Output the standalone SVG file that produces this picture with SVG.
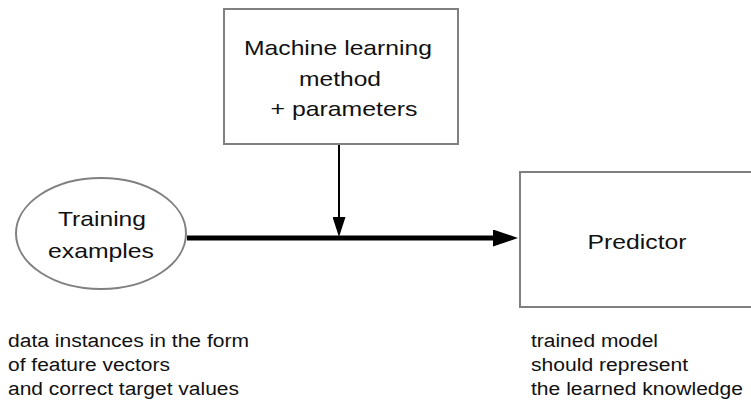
<svg xmlns="http://www.w3.org/2000/svg" width="751" height="400" viewBox="0 0 751 400">
<defs>
<style>
.box{fill:#fff;stroke:#808080;stroke-width:2}
.t{font-family:"Liberation Sans",Arial,sans-serif;fill:#111}
.big{font-size:21px;text-anchor:middle}
.small{font-size:18px}
.conn{stroke:#000;fill:none}
</style>
<marker id="headBig" markerUnits="userSpaceOnUse" markerWidth="26" markerHeight="18" refX="2" refY="8.5" orient="auto">
<path d="M0,0 L25,8.5 L0,17 Z" fill="#000"/>
</marker>
<marker id="headSmall" markerUnits="userSpaceOnUse" markerWidth="21" markerHeight="13" refX="2" refY="6.5" orient="auto">
<path d="M0,0 L20,6.5 L0,13 Z" fill="#000"/>
</marker>
</defs>
<rect width="751" height="400" fill="#fff"/>
<g id="connectors">
<line class="conn" x1="187" y1="238" x2="495" y2="238" stroke-width="5" marker-end="url(#headBig)"/>
<line class="conn" x1="339" y1="144" x2="339" y2="219" stroke-width="2" marker-end="url(#headSmall)"/>
</g>
<g id="method">
<rect class="box" x="224" y="9" width="234" height="135"/>
<text class="t big" x="338" y="55" textLength="188" lengthAdjust="spacingAndGlyphs">Machine learning</text>
<text class="t big" x="340" y="86" textLength="82" lengthAdjust="spacingAndGlyphs">method</text>
<text class="t big" x="344" y="116" textLength="147" lengthAdjust="spacingAndGlyphs">+ parameters</text>
</g>
<g id="training">
<ellipse class="box" cx="101" cy="233.5" rx="85" ry="55.5"/>
<text class="t big" x="102" y="226" textLength="88" lengthAdjust="spacingAndGlyphs">Training</text>
<text class="t big" x="101" y="258" textLength="106" lengthAdjust="spacingAndGlyphs">examples</text>
</g>
<g id="predictor">
<rect class="box" x="520" y="172" width="234" height="135"/>
<text class="t big" x="637" y="249" textLength="99" lengthAdjust="spacingAndGlyphs">Predictor</text>
</g>
<g id="input-note">
<text class="t small" x="8" y="347" textLength="241" lengthAdjust="spacingAndGlyphs">data instances in the form</text>
<text class="t small" x="8" y="371" textLength="162" lengthAdjust="spacingAndGlyphs">of feature vectors</text>
<text class="t small" x="8" y="395" textLength="231" lengthAdjust="spacingAndGlyphs">and correct target values</text>
</g>
<g id="output-note">
<text class="t small" x="531" y="347" textLength="127" lengthAdjust="spacingAndGlyphs">trained model</text>
<text class="t small" x="531" y="371" textLength="157" lengthAdjust="spacingAndGlyphs">should represent</text>
<text class="t small" x="531" y="395" textLength="212" lengthAdjust="spacingAndGlyphs">the learned knowledge</text>
</g>
</svg>
